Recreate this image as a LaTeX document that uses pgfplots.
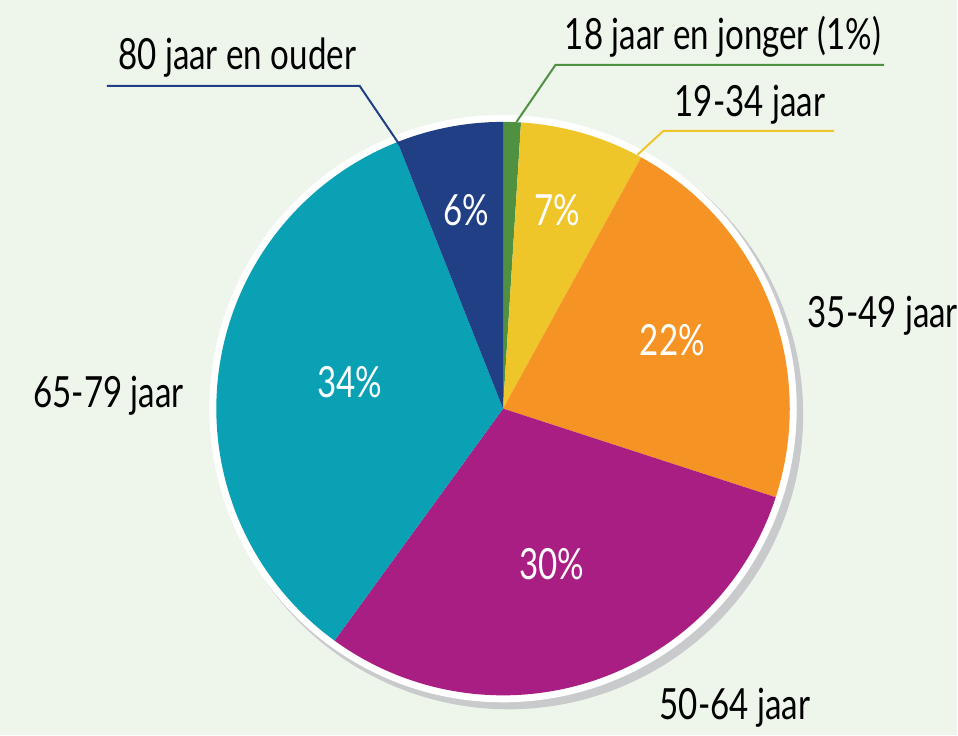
\documentclass[border=0pt]{standalone}
\usepackage{pgfplots}
\pgfplotsset{compat=1.18}
\usepackage{fontspec}
\setmainfont{Lato}[FakeStretch=0.77]
\definecolor{bg}{HTML}{EEF6EC}
\definecolor{cgreen}{HTML}{4F9140}
\definecolor{cyellow}{HTML}{EFC62A}
\definecolor{corange}{HTML}{F59324}
\definecolor{cmagenta}{HTML}{A91E83}
\definecolor{cteal}{HTML}{0AA1B5}
\definecolor{cblue}{HTML}{213F85}
\definecolor{cshadow}{HTML}{C9CACC}
\tikzset{lbl/.style={font=\fontsize{21.5}{21.5}\selectfont, inner sep=0pt}}
% start (cumulative %), share (%), colour
\newcommand\pieslice[3]{%
  \pgfmathsetmacro\aA{90-3.6*(#1+#2)}%
  \pgfmathsetmacro\aB{90-3.6*(#1)}%
  \addplot[fill=#3, draw=none, domain=\aA:\aB, samples=120]
    ({503.5+287*cos(x)},{327+287*sin(x)}) -- (axis cs:503.5,327) -- cycle;
}
\begin{document}
\begin{tikzpicture}
\begin{axis}[x=0.5pt, y=0.5pt, xmin=0, xmax=958, ymin=0, ymax=736,
  hide axis, clip=false, scale only axis]
\fill[bg] (axis cs:0,0) rectangle (axis cs:958,736);
% shadow and white rim
\addplot[fill=cshadow, draw=none, domain=0:360, samples=200] ({509+295*cos(x)},{321+295*sin(x)}) -- cycle;
\addplot[fill=white, draw=none, domain=0:360, samples=200] ({503.5+294*cos(x)},{327+294*sin(x)}) -- cycle;
% slices: 1, 7, 22, 30, 34, 6 percent
\pieslice{0}{1}{cgreen}
\pieslice{1}{7}{cyellow}
\pieslice{8}{22}{corange}
\pieslice{30}{30}{cmagenta}
\pieslice{60}{34}{cteal}
\pieslice{94}{6}{cblue}
% leader lines
\draw[cgreen, line width=1pt] (axis cs:517,614) -- (axis cs:556,671) -- (axis cs:885,671);
\draw[cyellow, line width=1pt] (axis cs:638,581) -- (axis cs:664,605) -- (axis cs:835,605);
\draw[cblue, line width=1pt] (axis cs:400,591) -- (axis cs:360,650) -- (axis cs:107,650);
% outer labels
\node[lbl, anchor=base west] at (axis cs:565,686) {18 jaar en jonger (1\%)};
\node[lbl, anchor=base west] at (axis cs:675,619) {19-34 jaar};
\node[lbl, anchor=base west] at (axis cs:118,666) {80 jaar en ouder};
\node[lbl, anchor=base west] at (axis cs:808,408) {35-49 jaar};
\node[lbl, anchor=base west] at (axis cs:33,328) {65-79 jaar};
\node[lbl, anchor=base west] at (axis cs:660,16) {50-64 jaar};
% inner labels
\node[lbl, text=white] at (axis cs:467,526) {6\%};
\node[lbl, text=white] at (axis cs:558,526) {7\%};
\node[lbl, text=white] at (axis cs:673,396) {22\%};
\node[lbl, text=white] at (axis cs:552,171) {30\%};
\node[lbl, text=white] at (axis cs:350,354) {34\%};
\end{axis}
\end{tikzpicture}
\end{document}
